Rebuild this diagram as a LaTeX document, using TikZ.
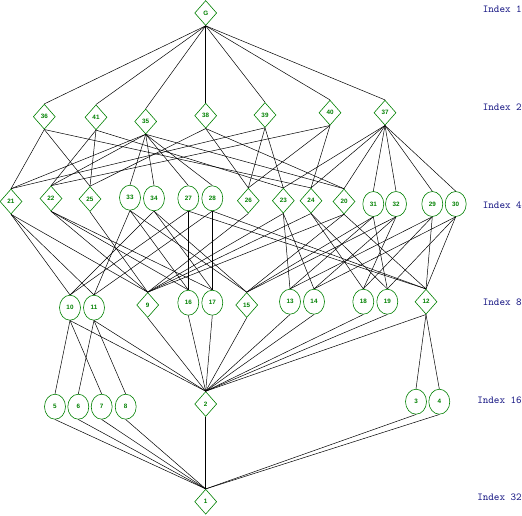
\documentclass[tikz,border=0pt]{standalone}
\usepackage{fontspec}
\usetikzlibrary{shapes.geometric}
\newfontfamily\labfont{Liberation Sans}
\definecolor{latgreen}{RGB}{0,128,0}
\definecolor{idxblue}{RGB}{20,20,130}

\begin{document}
\begin{tikzpicture}[x=1pt,y=-1pt,
    nsub/.style={diamond,draw=latgreen,line width=0.6pt,text=latgreen,
        minimum width=22pt,minimum height=25pt,inner sep=0pt,
        font=\labfont\bfseries\fontsize{6.3}{7}\selectfont},
    sub/.style={ellipse,draw=latgreen,line width=0.6pt,text=latgreen,
        minimum width=21pt,minimum height=25pt,inner sep=0pt,
        font=\labfont\bfseries\fontsize{6.3}{7}\selectfont},
    idx/.style={anchor=east,text=idxblue,inner sep=0pt,
        font=\ttfamily\fontsize{10.6}{11}\selectfont},
    edge/.style={line width=0.5pt}]

\useasboundingbox (0,0) rectangle (522,515);

% index 1
\node[nsub] (G) at (205.7,13) {G};
% index 2
\node[nsub] (s36) at (44.3,116.7) {36};
\node[nsub] (s41) at (96,117.3) {41};
\node[nsub] (s35) at (145.7,121.5) {35};
\node[nsub] (s38) at (205.7,115.7) {38};
\node[nsub] (s39) at (265,115) {39};
\node[nsub] (s40) at (330,112.7) {40};
\node[nsub] (s37) at (385,112.7) {37};
% index 4
\node[nsub] (s21) at (11,201.5) {21};
\node[nsub] (s22) at (51,198.5) {22};
\node[nsub] (s25) at (90,199) {25};
\node[sub]  (s33) at (130,197.7) {33};
\node[sub]  (s34) at (154,198.3) {34};
\node[sub]  (s27) at (188.3,198.3) {27};
\node[sub]  (s28) at (212.3,198.3) {28};
\node[nsub] (s26) at (248.3,200.7) {26};
\node[nsub] (s23) at (283.3,200.7) {23};
\node[nsub] (s24) at (311,200.7) {24};
\node[nsub] (s20) at (344,201.5) {20};
\node[sub]  (s31) at (373.3,204) {31};
\node[sub]  (s32) at (396,204) {32};
\node[sub]  (s29) at (432.3,204) {29};
\node[sub]  (s30) at (455.7,204) {30};
% index 8
\node[sub]  (s10) at (70,307.7) {10};
\node[sub]  (s11) at (94,307.7) {11};
\node[nsub] (s9)  at (147.7,305) {9};
\node[sub]  (s16) at (188.3,302.7) {16};
\node[sub]  (s17) at (212.3,302.7) {17};
\node[nsub] (s15) at (246.7,305) {15};
\node[sub]  (s13) at (290,301.7) {13};
\node[sub]  (s14) at (314,301.7) {14};
\node[sub]  (s18) at (363.3,301.7) {18};
\node[sub]  (s19) at (387.3,301.7) {19};
\node[nsub] (s12) at (426,301.7) {12};
% index 16
\node[sub]  (s5) at (55,406.7) {5};
\node[sub]  (s6) at (78.3,406.7) {6};
\node[sub]  (s7) at (101.7,406.7) {7};
\node[sub]  (s8) at (125.7,406.7) {8};
\node[nsub] (s2) at (205.7,404) {2};
\node[sub]  (s3) at (416,401.7) {3};
\node[sub]  (s4) at (439.3,401.7) {4};
% index 32
\node[nsub] (s1) at (205.7,501.7) {1};

% inclusions
\foreach \a/\b in {G/s36,G/s41,G/s35,G/s38,G/s39,G/s40,G/s37,
    s36/s21,s36/s25,s36/s24,s41/s22,s41/s25,s41/s23,
    s35/s21,s35/s22,s35/s20,s35/s27,s35/s28,s35/s33,s35/s34,
    s38/s25,s38/s20,s38/s26,s39/s23,s39/s26,s39/s21,
    s40/s22,s40/s26,s40/s24,
    s37/s20,s37/s23,s37/s24,s37/s29,s37/s30,s37/s31,s37/s32}
  \draw[edge] (\a.south) -- (\b.north);
\foreach \a/\b in {s21/s9,s21/s10,s21/s11,s22/s9,s22/s16,s22/s17,
    s25/s9,s26/s9,s23/s9,s23/s13,s23/s14,s24/s9,s24/s18,s24/s19,
    s20/s9,s20/s15,s20/s12,
    s27/s16,s27/s12,s27/s10,s28/s17,s28/s12,s28/s11,
    s33/s16,s33/s15,s33/s11,s34/s17,s34/s15,s34/s10,
    s29/s13,s29/s18,s29/s12,s30/s14,s30/s19,s30/s12,
    s31/s13,s31/s15,s31/s19,s32/s14,s32/s15,s32/s18}
  \draw[edge] (\a.south) -- (\b.north);
\foreach \a/\b in {s10/s5,s10/s7,s11/s6,s11/s8,s12/s3,s12/s4}
  \draw[edge] (\a.south) -- (\b.north);
\foreach \a in {s10,s11,s9,s16,s17,s15,s13,s14,s18,s19,s12}
  \draw[edge] (\a.south) -- (s2.north);
\foreach \a in {s5,s6,s7,s8,s2,s3,s4}
  \draw[edge] (\a.south) -- (s1.north);

% levels
\node[idx] (i1)  at (522,9)   {Index 1};
\node[idx] (i2)  at (522,107) {Index 2};
\node[idx] (i4)  at (522,205) {Index 4};
\node[idx] (i8)  at (522,302) {Index 8};
\node[idx] (i16) at (522,400) {Index 16};
\node[idx] (i32) at (522,497) {Index 32};

\end{tikzpicture}
\end{document}
